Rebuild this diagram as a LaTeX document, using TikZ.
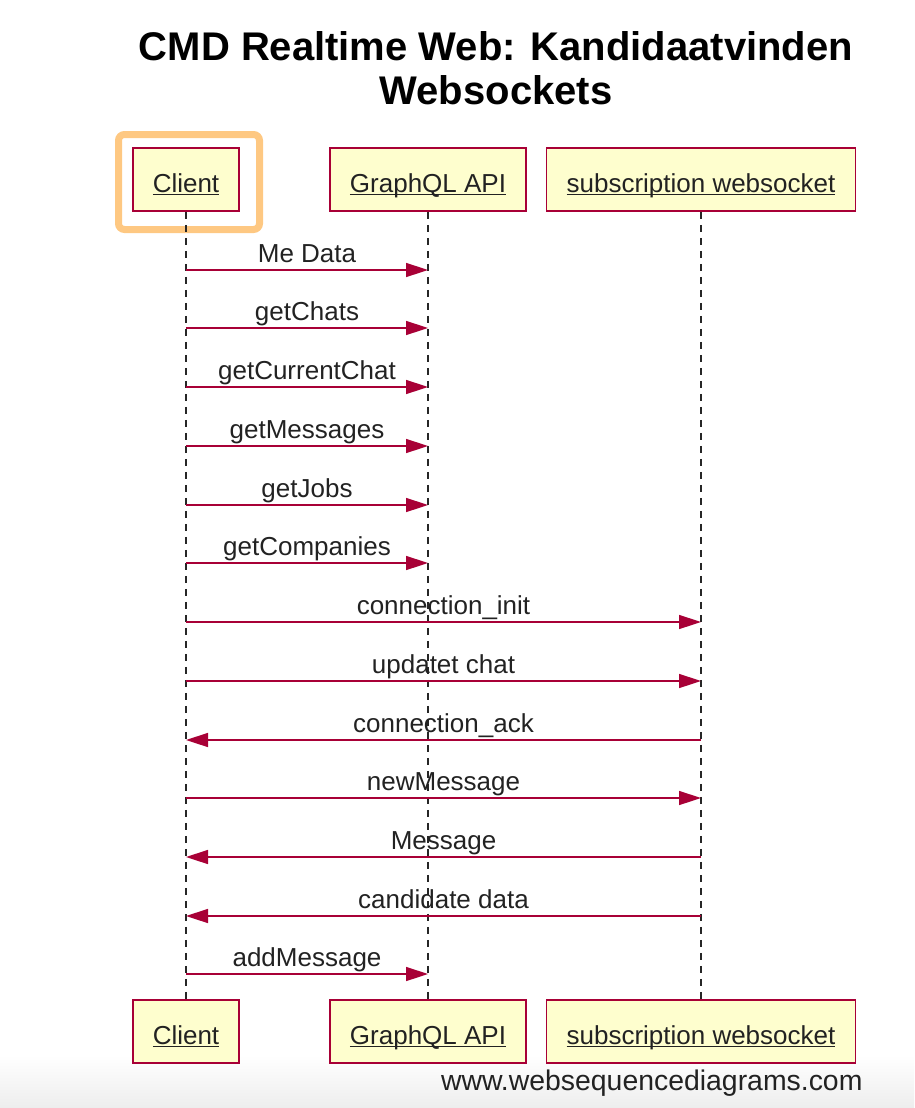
\documentclass[tikz,border=0pt]{standalone}
\usepackage{fontspec}
\setmainfont{Liberation Sans}
\usetikzlibrary{arrows.meta,positioning}
\definecolor{wsdred}{RGB}{168,0,54}
\definecolor{wsdfill}{RGB}{254,254,206}
\definecolor{hilite}{RGB}{254,200,130}
\definecolor{ink}{RGB}{34,34,34}
\newcommand\undl[1]{\setbox0\hbox{#1}\rlap{\rule[-3pt]{\wd0}{1.3pt}}\box0}
\tikzset{
  actor/.style={draw=wsdred,line width=1.6pt,fill=wsdfill,minimum height=63pt,inner xsep=20pt,text height=26pt,text depth=1pt,text=ink,font=\fontsize{26}{30}\selectfont},
  lifeline/.style={draw=black!85,line width=1.4pt,dash pattern=on 7pt off 6pt},
  msg/.style={draw=wsdred,line width=1.5pt,-{Triangle[length=22pt,width=14pt]}},
  msglabel/.style={font=\fontsize{26}{30}\selectfont,text=ink,anchor=base,yshift=8pt}
}
\begin{document}
\begin{tikzpicture}[x=1pt,y=-1pt]
  \useasboundingbox (0,0) rectangle (914,1108);
  \fill[top color=white,bottom color=black!7] (0,1055) rectangle (914,1108);
  \node[font=\bfseries\fontsize{40}{43}\selectfont,anchor=base] (title1) at (496,61) {CMD Realtime Web: Kandidaatvinden};
  \node[font=\bfseries\fontsize{40}{43}\selectfont,anchor=base] (title2) at (496,104) {Websockets};
  % highlight round the first actor
  \draw[hilite,line width=7pt,rounded corners=6pt] (118.5,134.5) rectangle (259.5,229.5);
  \node[actor] (C) at (186,179.5) {\undl{Client}};
  \node[actor] (G) at (428,179.5) {\undl{GraphQL API}};
  \node[actor] (S) at (701,179.5) {\undl{subscription websocket}};
  \node[actor] (Cb) at (186,1031.5) {\undl{Client}};
  \node[actor] (Gb) at (428,1031.5) {\undl{GraphQL API}};
  \node[actor] (Sb) at (701,1031.5) {\undl{subscription websocket}};
  \draw[lifeline] (C) -- (Cb);
  \draw[lifeline] (G) -- (Gb);
  \draw[lifeline] (S) -- (Sb);
  \foreach \y [count=\i] in {270,328,387,446,505,563,622,681,740,798,857,916,974}
    \coordinate (m\i) at (0,\y);
  \draw[msg] (C|-m1) -- (G|-m1) node[msglabel,midway] {Me Data};
  \draw[msg] (C|-m2) -- (G|-m2) node[msglabel,midway] {getChats};
  \draw[msg] (C|-m3) -- (G|-m3) node[msglabel,midway] {getCurrentChat};
  \draw[msg] (C|-m4) -- (G|-m4) node[msglabel,midway] {getMessages};
  \draw[msg] (C|-m5) -- (G|-m5) node[msglabel,midway] {getJobs};
  \draw[msg] (C|-m6) -- (G|-m6) node[msglabel,midway] {getCompanies};
  \draw[msg] (C|-m7) -- (S|-m7) node[msglabel,midway] {connection\_init};
  \draw[msg] (C|-m8) -- (S|-m8) node[msglabel,midway] {updatet chat};
  \draw[msg] (S|-m9) -- (C|-m9) node[msglabel,midway] {connection\_ack};
  \draw[msg] (C|-m10) -- (S|-m10) node[msglabel,midway] {newMessage};
  \draw[msg] (S|-m11) -- (C|-m11) node[msglabel,midway] {Message};
  \draw[msg] (S|-m12) -- (C|-m12) node[msglabel,midway] {candidate data};
  \draw[msg] (C|-m13) -- (G|-m13) node[msglabel,midway] {addMessage};
  \node[font=\fontsize{28.4}{32}\selectfont,text=ink,anchor=base east] (wsd) at (866,1090) {www.websequencediagrams.com};
\end{tikzpicture}
\end{document}
